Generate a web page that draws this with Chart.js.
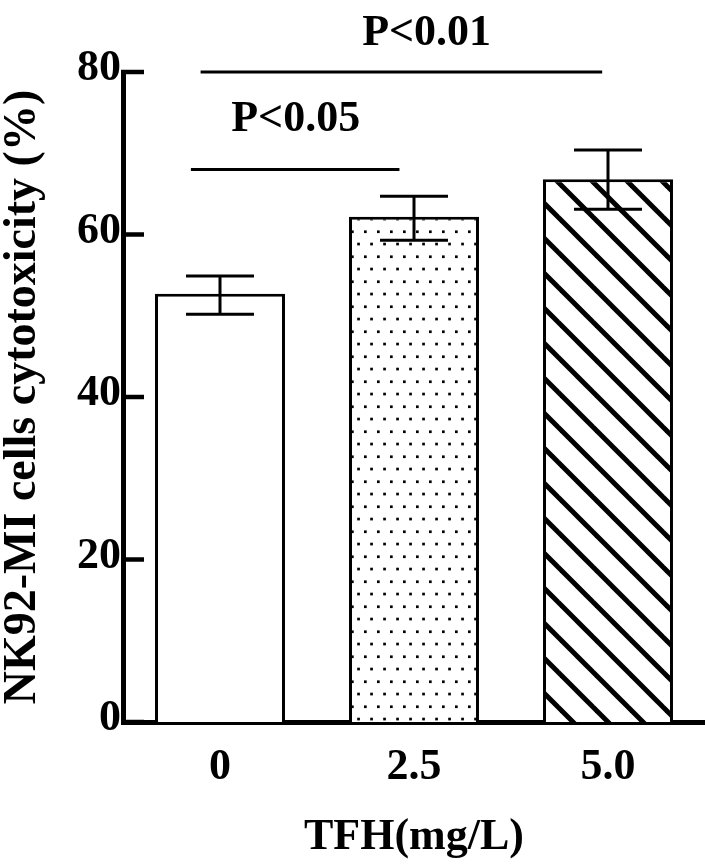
<!DOCTYPE html>
<html><head><meta charset="utf-8">
<script src="https://cdn.jsdelivr.net/npm/chart.js@4.4.1/dist/chart.umd.min.js"></script>
<style>html,body{margin:0;padding:0;background:#fff;}canvas{display:block;}</style>
</head><body>
<canvas id="c" width="705" height="868"></canvas>
<script>
// ---- data ----
const categories = ['0', '2.5', '5.0'];
const meanValues = [52.7, 62.2, 66.8];
const errorLow = [50.2, 59.3, 63.1];
const errorHigh = [54.9, 64.7, 70.4];
const yTicks = [0, 20, 40, 60, 80];
const sigLabels = ['P<0.05', 'P<0.01'];
const sigFrom = [0, 0];
const sigTo = [1, 2];
const sigLevel = [68, 80];
const yTitle = 'NK92-MI cells cytotoxicity (%)';
const xTitle = 'TFH(mg/L)';

// ---- styles ----
const FONT = '"Liberation Serif", "Times New Roman", serif';
const sigStyle = [
  {startShift: -0.15, endShift: -0.075, textAt: 0.39, textRise: 39},
  {startShift: -0.10, endShift: -0.03, textAt: 1.065, textRise: 27}
];

function dotPattern() {
  const c = document.createElement('canvas'); c.width = 13; c.height = 25;
  const g = c.getContext('2d');
  g.fillStyle = '#fff'; g.fillRect(0, 0, 13, 25);
  g.fillStyle = '#000';
  g.fillRect(0, 5.4, 2.7, 2.7);
  g.fillRect(6.2, 17.7, 2.7, 2.7);
  return g.createPattern(c, 'repeat');
}
function hatchPattern() {
  const s = 35;
  const c = document.createElement('canvas'); c.width = s; c.height = s;
  const g = c.getContext('2d');
  g.fillStyle = '#fff'; g.fillRect(0, 0, s, s);
  g.strokeStyle = '#000'; g.lineWidth = 5;
  for (const k of [-s, 0, s]) {
    g.beginPath(); g.moveTo(26 + k - 10, -10); g.lineTo(26 + k + s + 10, s + 10); g.stroke();
  }
  return g.createPattern(c, 'repeat');
}

const extras = {
  id: 'extras',
  afterDatasetsDraw(chart) {
    const {ctx, chartArea} = chart;
    const xs = chart.scales.x, ys = chart.scales.y;
    ctx.save();
    ctx.strokeStyle = '#000';
    ctx.lineCap = 'butt';
    // inward y ticks
    ctx.lineWidth = 4.5;
    yTicks.forEach(v => {
      const y = ys.getPixelForValue(v);
      ctx.beginPath(); ctx.moveTo(chartArea.left - 2, y); ctx.lineTo(chartArea.left + 21, y); ctx.stroke();
    });
    // error bars
    ctx.lineWidth = 3;
    meanValues.forEach((m, i) => {
      const x = xs.getPixelForValue(i);
      const yH = ys.getPixelForValue(errorHigh[i]);
      const yL = ys.getPixelForValue(errorLow[i]);
      ctx.beginPath();
      ctx.moveTo(x, yH); ctx.lineTo(x, yL);
      ctx.moveTo(x - 34, yH); ctx.lineTo(x + 34, yH);
      ctx.moveTo(x - 34, yL); ctx.lineTo(x + 34, yL);
      ctx.stroke();
    });
    // significance brackets
    ctx.lineWidth = 3;
    ctx.fillStyle = '#000';
    ctx.font = 'bold 44px ' + FONT;
    ctx.textAlign = 'center';
    ctx.textBaseline = 'alphabetic';
    sigLabels.forEach((lab, i) => {
      const st = sigStyle[i];
      const y = ys.getPixelForValue(sigLevel[i]);
      const x1 = xs.getPixelForValue(sigFrom[i] + st.startShift);
      const x2 = xs.getPixelForValue(sigTo[i] + st.endShift);
      ctx.beginPath(); ctx.moveTo(x1, y); ctx.lineTo(x2, y); ctx.stroke();
      ctx.fillText(lab, xs.getPixelForValue(st.textAt), y - st.textRise);
    });
    ctx.restore();
  }
};

new Chart(document.getElementById('c'), {
  type: 'bar',
  data: {
    labels: categories,
    datasets: [{
      data: meanValues,
      backgroundColor: ['#ffffff', dotPattern(), hatchPattern()],
      borderColor: '#000',
      borderWidth: 3,
      borderSkipped: 'start',
      categoryPercentage: 1,
      barPercentage: 0.67
    }]
  },
  options: {
    responsive: false,
    devicePixelRatio: 1,
    animation: false,
    layout: {padding: {top: 72, right: 0, left: 0, bottom: 0}},
    plugins: {legend: {display: false}, tooltip: {enabled: false}},
    scales: {
      x: {
        offset: true,
        grid: {display: false, drawTicks: false},
        border: {display: true, color: '#000', width: 5},
        ticks: {color: '#000', padding: 19, font: {family: FONT, size: 44, weight: 'bold'}},
        title: {display: true, text: xTitle, color: '#000', padding: {top: 0, bottom: 8},
                font: {family: FONT, size: 44, weight: 'bold', lineHeight: 1}},
        afterFit(s) { s.height = 146; }
      },
      y: {
        min: 0, max: 80,
        afterBuildTicks(s) { s.ticks = yTicks.map(v => ({value: v})); },
        grid: {display: false, drawTicks: false},
        border: {display: true, color: '#000', width: 5},
        ticks: {color: '#000', padding: 2, labelOffset: -3, font: {family: FONT, size: 44, weight: 'bold'}},
        title: {display: true, text: yTitle, color: '#000', padding: {top: 0, bottom: 0},
                font: {family: FONT, size: 46, weight: 'bold', lineHeight: 1}},
        afterFit(s) { s.width = 123; }
      }
    }
  },
  plugins: [extras]
});
</script>
</body></html>
